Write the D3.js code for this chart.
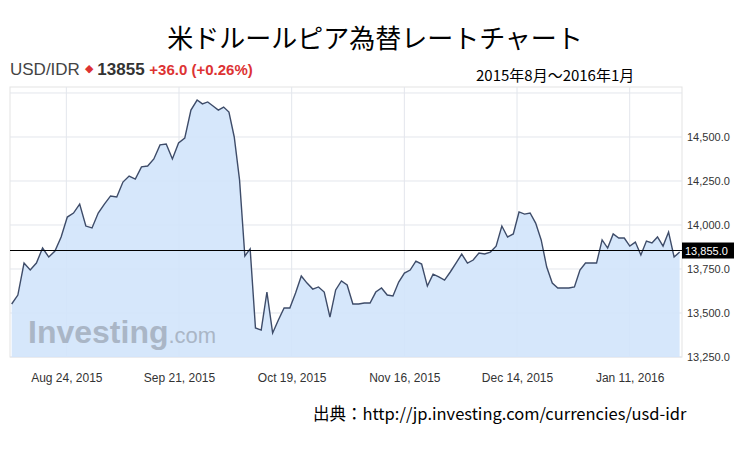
<!DOCTYPE html>
<html><head><meta charset="utf-8">
<script src="https://cdn.jsdelivr.net/npm/d3@7"></script>
<style>body{margin:0;background:#fff}svg{display:block}</style></head>
<body><svg id="c" width="750" height="469"></svg>
<script>
const values=[13551,13602,13784,13744,13784,13869,13818,13852,13932,14045,14068,14119,13994,13983,14068,14119,14165,14159,14244,14278,14261,14330,14335,14375,14455,14460,14375,14466,14494,14653,14710,14688,14699,14676,14653,14670,14642,14500,14256,13824,13864,13415,13403,13619,13386,13460,13528,13528,13614,13710,13670,13636,13648,13619,13477,13631,13682,13659,13551,13551,13557,13557,13619,13642,13602,13597,13676,13727,13744,13795,13778,13653,13721,13705,13687,13733,13784,13835,13784,13801,13841,13835,13846,13880,13994,13932,13949,14074,14062,14068,14011,13915,13761,13670,13642,13642,13642,13648,13744,13784,13784,13784,13915,13869,13949,13926,13926,13880,13903,13830,13909,13898,13932,13880,13960,13818,13846];
// dates of a few recognisable points (index -> date), others placed between them
const anchorIdx=[0,30,41,87,116];
const anchorDates=[new Date(2015,7,10,10),new Date(2015,8,25,12),new Date(2015,9,10,0),new Date(2015,11,14,12),new Date(2016,0,23,10)];
const xTicks=[new Date(2015,7,24),new Date(2015,8,21),new Date(2015,9,19),new Date(2015,10,16),new Date(2015,11,14),new Date(2016,0,11)];
const yTicks=[13250,13500,13750,14000,14250,14500,14750];
const yLabelTicks=[13250,13500,13750,14000,14250,14500];
const current=13855;

const svg=d3.select("#c");
const L=10,R=682,T=87,B=357;
const x=d3.scaleTime().domain([new Date(2015,7,10),new Date(2016,0,24)]).range([L,R]);
const y=d3.scaleLinear().domain([13250,14784]).range([B,T]);
const t=d3.scaleLinear().domain(anchorIdx).range(anchorDates.map(d=>+d));
const data=values.map((v,i)=>({d:new Date(t(i)),v}));

svg.append("text").attr("x",375).attr("y",48).attr("text-anchor","middle").attr("font-family","Noto Sans CJK JP").attr("font-size",26).text("米ドルールピア為替レートチャート");
const h=svg.append("text").attr("x",10).attr("y",75).attr("font-family","Liberation Sans, Arial").attr("font-size",17);
h.append("tspan").attr("fill","#444").text("USD/IDR ");
h.append("tspan").attr("fill","#d33").attr("font-size",11).attr("dy",-3).text("◆");
h.append("tspan").attr("fill","#333").attr("font-weight","bold").attr("dy",3).text(" 13855 ");
h.append("tspan").attr("fill","#d33").attr("font-weight","bold").attr("font-size",15).text(" +36.0  (+0.26%)");
svg.append("text").attr("x",476).attr("y",81).attr("font-family","Noto Sans CJK JP").attr("font-size",15).text("2015年8月～2016年1月");

svg.append("rect").attr("x",L).attr("y",T).attr("width",R-L).attr("height",B-T).attr("fill","#fff").attr("stroke","#e3e3e3");
svg.append("g").selectAll("line").data(yTicks).join("line").attr("x1",L).attr("x2",R).attr("y1",d=>y(d)).attr("y2",d=>y(d)).attr("stroke","#e3e6ec");
svg.append("g").selectAll("line").data(xTicks).join("line").attr("x1",d=>x(d)).attr("x2",d=>x(d)).attr("y1",T).attr("y2",B).attr("stroke","#e3e6ec");

svg.append("path").datum(data).attr("fill","#d2e4fb").attr("fill-opacity",0.9)
 .attr("d",d3.area().x(d=>x(d.d)).y0(B).y1(d=>y(d.v)));
const wm=svg.append("text").attr("x",28).attr("y",343).attr("font-family","Liberation Sans, Arial").attr("fill","#aab6c6");
wm.append("tspan").attr("font-size",32).attr("font-weight","bold").text("Investing");
wm.append("tspan").attr("font-size",22).text(".com");
svg.append("path").datum(data).attr("fill","none").attr("stroke","#3e4c69").attr("stroke-width",1.4)
 .attr("d",d3.line().x(d=>x(d.d)).y(d=>y(d.v)));

svg.append("line").attr("x1",L).attr("x2",R).attr("y1",y(current)).attr("y2",y(current)).attr("stroke","#000").attr("stroke-width",1.2);

const ya=svg.append("g").attr("transform",`translate(${R},0)`).call(d3.axisRight(y).tickValues(yLabelTicks).tickSize(0).tickPadding(5).tickFormat(d3.format(",.1f")));
ya.select(".domain").remove();
ya.selectAll("text").attr("font-family","Liberation Sans, Arial").attr("font-size",11).attr("fill","#333");
svg.append("rect").attr("x",R).attr("y",y(current)-8).attr("width",52).attr("height",16).attr("fill","#000");
svg.append("text").attr("x",R+3).attr("y",y(current)+4).attr("font-family","Liberation Sans, Arial").attr("font-size",11).attr("fill","#fff").text(d3.format(",.1f")(current));

const xa=svg.append("g").attr("transform",`translate(0,${B})`).call(d3.axisBottom(x).tickValues(xTicks).tickSize(0).tickPadding(16).tickFormat(d3.timeFormat("%b %-d, %Y")));
xa.select(".domain").remove();
xa.selectAll("text").attr("font-family","Liberation Sans, Arial").attr("font-size",12).attr("fill","#333");

svg.append("text").attr("x",313).attr("y",420).attr("font-family","Noto Sans CJK JP").attr("font-size",16.5).text("出典：http://jp.investing.com/currencies/usd-idr");
</script></body></html>
